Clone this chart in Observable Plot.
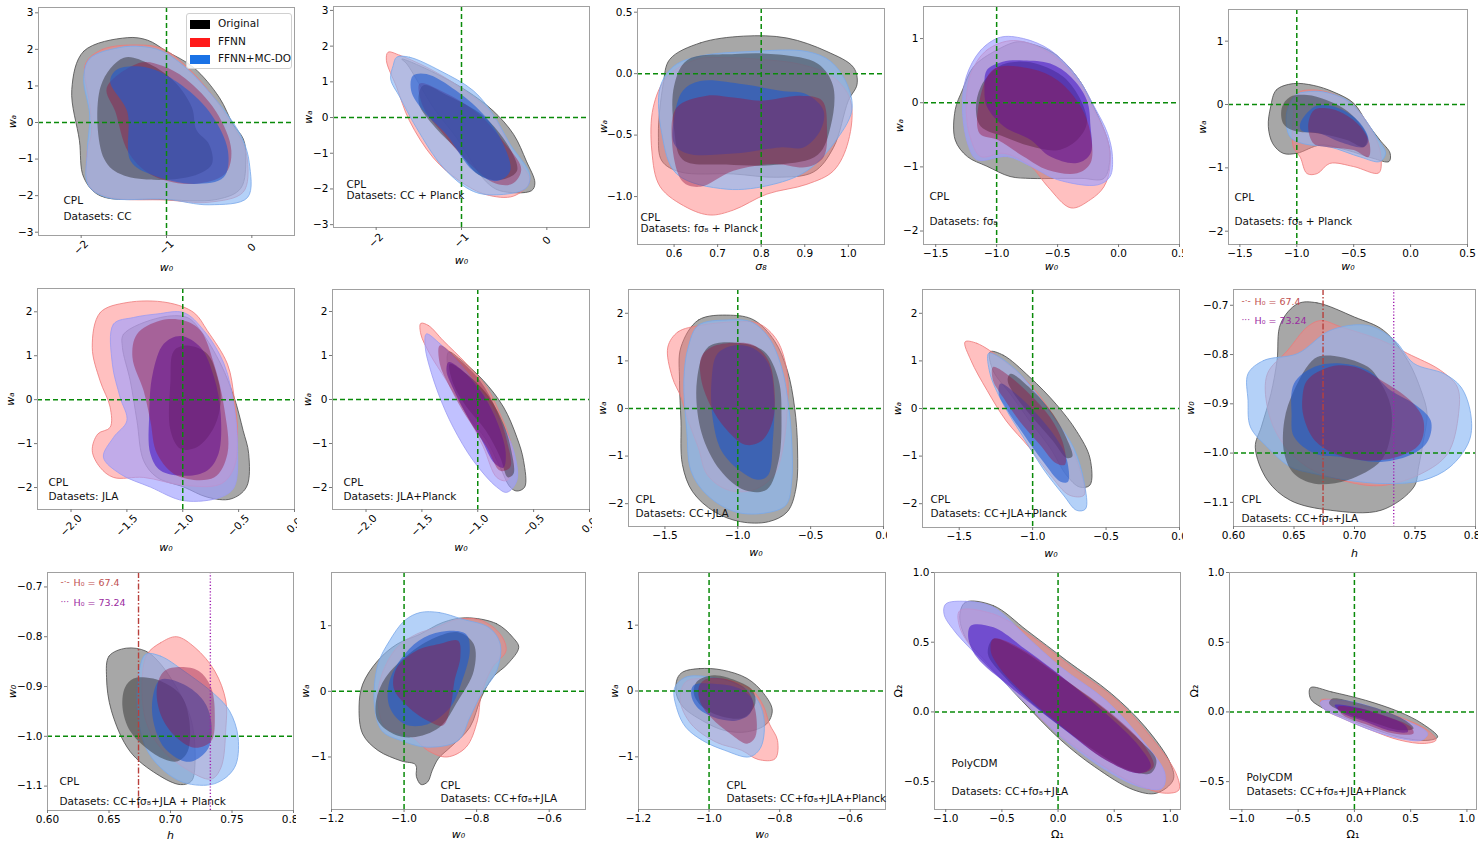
<!DOCTYPE html>
<html><head><meta charset="utf-8">
<script src="https://cdn.jsdelivr.net/npm/d3@7"></script>
<script src="https://cdn.jsdelivr.net/npm/@observablehq/plot@0.6"></script>
<style>
body{margin:0;background:#fff;}
#fig{position:relative;width:1479px;height:844px;overflow:hidden;font-family:"DejaVu Sans",sans-serif;background:#fff;}
.panel{position:absolute;}
.legend{position:absolute;border:1px solid #d0d0d0;border-radius:3px;background:rgba(255,255,255,0.85);font-size:10.5px;}
.legend .row{position:absolute;left:3px;height:10px;}
.legend .sw{position:absolute;left:0;top:0;width:20px;height:9px;}
.legend .lb{position:absolute;left:28px;top:-3px;white-space:nowrap;color:#111;}
</style></head><body><div id="fig"></div><script>
// ---------------- data ----------------
const legendLabels = ["Original", "FFNN", "FFNN+MC-DO"];
const legendColors = ["#000000", "#ff1a1a", "#1a72e6"];
const h0Values = [0.674, 0.7324];
const h0Labels = ["H₀ = 67.4", "H₀ = 73.24"];
const h0Symbols = ["-·-", "···"];

// Panel 1: CPL, CC
const p1_text = ["CPL", "Datasets: CC"];
const p1_orig95 = [[-1.46,2.32],[-1.97,1.95],[-2.11,0.9],[-2.02,-0.5],[-1.97,-1.5],[-1.78,-2.0],[-1.1,-2.1],[-0.4,-2.1],[-0.13,-1.8],[-0.07,-0.95],[-0.1,-0.45],[-0.22,-0.05],[-0.38,0.68],[-0.68,1.5],[-1.0,1.95],[-1.22,2.25]];
const p1_orig68 = [[-1.5,1.77],[-1.77,1.0],[-1.73,-1.0],[-1.5,-1.45],[-0.75,-1.5],[-0.47,-1.15],[-0.5,-0.6],[-0.65,-0.2],[-0.7,0.4],[-0.9,1.1],[-1.2,1.6]];
const p1_ffnn95 = [[-1.35,2.12],[-1.75,2.0],[-1.95,1.6],[-1.9,0.5],[-1.88,-0.3],[-1.93,-0.8],[-1.9,-1.75],[-1.65,-2.05],[-1.0,-2.12],[-0.5,-2.18],[-0.1,-1.9],[-0.05,-1.05],[-0.12,-0.5],[-0.25,0.0],[-0.45,0.7],[-0.75,1.5],[-1.05,2.02]];
const p1_ffnn68 = [[-1.3,1.64],[-1.7,0.95],[-1.6,0.3],[-1.45,-0.8],[-1.2,-1.4],[-0.75,-1.68],[-0.32,-1.42],[-0.24,-0.77],[-0.42,0.3],[-0.78,1.2],[-1.05,1.55]];
const p1_mcdo95 = [[-1.55,2.05],[-1.9,1.75],[-1.97,1.2],[-1.9,0.2],[-1.93,-0.8],[-1.92,-1.7],[-1.7,-2.05],[-1.0,-2.1],[-0.5,-2.25],[-0.05,-2.05],[-0.03,-1.1],[-0.1,-0.5],[-0.22,0.0],[-0.45,0.7],[-0.75,1.45],[-1.05,1.95],[-1.3,2.08]];
const p1_mcdo68 = [[-1.58,1.45],[-1.66,1.12],[-1.46,0.3],[-1.42,-1.05],[-1.18,-1.42],[-0.67,-1.68],[-0.33,-1.5],[-0.28,-0.77],[-0.5,0.3],[-0.87,1.1],[-1.22,1.5]];

// Panel 2: CPL, CC + Planck
const p2_text = ["CPL", "Datasets: CC + Planck"];
const p2_orig95 = [[-1.7,1.64],[-1.33,1.27],[-0.94,0.75],[-0.63,0.19],[-0.39,-0.47],[-0.24,-1.22],[-0.14,-1.83],[-0.18,-2.05],[-0.55,-2.05],[-0.71,-1.8],[-0.86,-1.31],[-1.06,-0.56],[-1.33,0.28],[-1.64,1.5]];
const p2_orig68 = [[-1.45,0.9],[-1.15,0.6],[-0.75,0.05],[-0.45,-0.8],[-0.35,-1.5],[-0.55,-1.75],[-0.8,-1.6],[-1.05,-0.9],[-1.3,-0.3],[-1.5,0.4]];
const p2_ffnn95 = [[-1.86,1.83],[-1.72,1.74],[-1.33,1.31],[-1.02,0.85],[-0.71,0.28],[-0.59,-0.09],[-0.39,-1.03],[-0.2,-1.78],[-0.39,-2.2],[-0.71,-2.16],[-1.02,-1.78],[-1.33,-1.13],[-1.61,-0.09],[-1.76,0.85],[-1.88,1.6]];
const p2_ffnn68 = [[-1.49,0.95],[-1.2,0.7],[-0.8,0.1],[-0.5,-0.7],[-0.3,-1.45],[-0.4,-1.85],[-0.6,-1.85],[-0.9,-1.3],[-1.2,-0.5],[-1.45,0.3]];
const p2_mcdo95 = [[-1.76,1.69],[-1.61,1.69],[-1.25,1.31],[-0.86,0.75],[-0.63,0.09],[-0.43,-0.75],[-0.2,-1.6],[-0.24,-1.97],[-0.55,-2.16],[-0.86,-2.07],[-1.21,-1.41],[-1.53,-0.28],[-1.72,0.56],[-1.83,1.08],[-1.8,1.46]];
const p2_mcdo68 = [[-1.57,1.17],[-1.41,1.22],[-1.06,0.75],[-0.71,0.0],[-0.51,-0.75],[-0.43,-1.5],[-0.59,-1.78],[-0.86,-1.5],[-1.18,-0.47],[-1.45,0.19],[-1.59,0.75]];

// Panel 3: CPL, fσ8 + Planck (σ8 - wa)
const p3_text = ["CPL", "Datasets: fσ₈ + Planck"];
const p3_orig95 = [[0.759,0.305],[0.66,0.25],[0.59,0.116],[0.575,-0.086],[0.564,-0.49],[0.572,-0.71],[0.614,-0.8],[0.736,-0.816],[0.836,-0.843],[0.92,-0.8],[0.966,-0.6],[1.0,-0.22],[1.02,-0.086],[1.012,0.05],[0.951,0.18],[0.859,0.29]];
const p3_orig68 = [[0.74,0.16],[0.63,0.11],[0.6,-0.1],[0.6,-0.45],[0.62,-0.7],[0.72,-0.74],[0.84,-0.74],[0.93,-0.66],[0.96,-0.42],[0.965,-0.1],[0.93,0.08],[0.84,0.155]];
const p3_ffnn95 = [[0.652,0.116],[0.583,-0.03],[0.552,-0.276],[0.549,-0.63],[0.568,-0.92],[0.63,-1.09],[0.683,-1.15],[0.736,-1.11],[0.813,-0.98],[0.905,-0.9],[0.966,-0.79],[1.0,-0.55],[1.005,-0.22],[0.966,-0.03],[0.89,0.076],[0.798,0.116],[0.721,0.13]];
const p3_ffnn68 = [[0.675,-0.18],[0.606,-0.276],[0.595,-0.546],[0.62,-0.88],[0.66,-0.92],[0.736,-0.79],[0.828,-0.735],[0.905,-0.76],[0.943,-0.68],[0.951,-0.44],[0.94,-0.22],[0.89,-0.18],[0.798,-0.22],[0.736,-0.195]];
const p3_mcdo95 = [[0.775,0.18],[0.66,0.143],[0.6,0.062],[0.568,-0.11],[0.572,-0.49],[0.606,-0.816],[0.721,-0.94],[0.828,-0.9],[0.905,-0.79],[0.966,-0.57],[1.008,-0.3],[0.997,-0.086],[0.959,0.1],[0.905,0.18]];
const p3_mcdo68 = [[0.66,-0.06],[0.62,-0.14],[0.6,-0.36],[0.6,-0.57],[0.63,-0.65],[0.736,-0.65],[0.844,-0.6],[0.897,-0.6],[0.936,-0.46],[0.943,-0.3],[0.905,-0.17],[0.844,-0.14],[0.759,-0.086]];

// Panel 4: CPL, fσ8
const p4_text = ["CPL", "Datasets: fσ₈"];
const p4_orig95 = [[-0.83,0.95],[-1.0,0.82],[-1.19,0.56],[-1.28,0.2],[-1.34,-0.11],[-1.34,-0.58],[-1.24,-0.84],[-1.08,-0.99],[-0.89,-1.15],[-0.72,-1.18],[-0.5,-1.18],[-0.3,-1.18],[-0.12,-1.18],[-0.07,-0.84],[-0.09,-0.58],[-0.23,0.04],[-0.34,0.4],[-0.53,0.77],[-0.72,0.92]];
const p4_orig68 = [[-0.99,0.56],[-1.13,0.25],[-1.17,-0.11],[-1.13,-0.37],[-0.94,-0.53],[-0.72,-0.68],[-0.5,-0.74],[-0.34,-0.58],[-0.26,-0.32],[-0.31,0.04],[-0.45,0.4],[-0.64,0.59],[-0.83,0.64]];
const p4_ffnn95 = [[-0.86,0.97],[-1.08,0.82],[-1.21,0.46],[-1.25,-0.11],[-1.21,-0.58],[-1.13,-0.84],[-0.94,-0.79],[-0.72,-0.99],[-0.58,-1.31],[-0.39,-1.64],[-0.23,-1.51],[-0.12,-1.31],[-0.07,-0.99],[-0.09,-0.58],[-0.23,-0.01],[-0.34,0.35],[-0.56,0.77]];
const p4_ffnn68 = [[-1.02,0.53],[-1.14,0.04],[-1.14,-0.48],[-0.99,-0.58],[-0.78,-0.84],[-0.58,-1.05],[-0.34,-1.1],[-0.23,-0.94],[-0.23,-0.48],[-0.31,-0.06],[-0.5,0.35],[-0.72,0.53]];
const p4_mcdo95 = [[-0.97,1.02],[-1.13,0.82],[-1.25,0.4],[-1.28,-0.11],[-1.23,-0.68],[-1.16,-0.89],[-0.91,-0.84],[-0.72,-0.99],[-0.5,-1.2],[-0.17,-1.28],[-0.07,-1.15],[-0.05,-0.84],[-0.09,-0.48],[-0.2,-0.06],[-0.34,0.4],[-0.56,0.82],[-0.78,1.0]];
const p4_mcdo68 = [[-1.08,0.51],[-0.95,0.64],[-0.78,0.66],[-0.56,0.61],[-0.39,0.4],[-0.26,0.04],[-0.23,-0.37],[-0.23,-0.79],[-0.34,-0.94],[-0.56,-0.84],[-0.72,-0.58],[-0.94,-0.37],[-1.08,-0.06],[-1.1,0.25]];

// Panel 5: CPL, fσ8 + Planck
const p5_text = ["CPL", "Datasets: fσ₈ + Planck"];
const p5_orig95 = [[-1.03,0.33],[-1.18,0.23],[-1.23,-0.04],[-1.25,-0.35],[-1.21,-0.62],[-1.12,-0.77],[-1.0,-0.77],[-0.79,-0.64],[-0.56,-0.72],[-0.33,-0.85],[-0.19,-0.9],[-0.18,-0.77],[-0.27,-0.56],[-0.38,-0.3],[-0.5,0.02],[-0.68,0.2],[-0.85,0.3]];
const p5_orig68 = [[-1.06,0.12],[-1.13,-0.04],[-1.12,-0.3],[-1.03,-0.41],[-0.79,-0.46],[-0.56,-0.56],[-0.41,-0.67],[-0.38,-0.51],[-0.53,-0.14],[-0.74,0.07],[-0.91,0.15]];
const p5_ffnn95 = [[-1.0,0.17],[-1.03,-0.19],[-1.03,-0.67],[-0.97,-0.83],[-0.91,-1.09],[-0.82,-1.09],[-0.71,-0.93],[-0.5,-0.98],[-0.28,-1.08],[-0.26,-0.83],[-0.3,-0.56],[-0.44,-0.14],[-0.62,0.12],[-0.85,0.23]];
const p5_ffnn68 = [[-0.85,-0.09],[-0.9,-0.35],[-0.85,-0.62],[-0.74,-0.67],[-0.5,-0.72],[-0.37,-0.83],[-0.36,-0.62],[-0.44,-0.35],[-0.59,-0.14],[-0.74,-0.06]];
const p5_mcdo95 = [[-1.01,0.15],[-1.09,-0.14],[-1.06,-0.51],[-0.94,-0.62],[-0.71,-0.67],[-0.44,-0.83],[-0.27,-0.9],[-0.22,-0.77],[-0.3,-0.51],[-0.44,-0.14],[-0.56,0.07],[-0.77,0.2],[-0.91,0.2]];
const p5_mcdo68 = [[-0.85,-0.04],[-0.97,-0.3],[-0.96,-0.41],[-0.79,-0.46],[-0.62,-0.59],[-0.41,-0.67],[-0.37,-0.56],[-0.44,-0.3],[-0.59,-0.09],[-0.74,-0.01]];

// Panel 6: CPL, JLA
const p6_text = ["CPL", "Datasets: JLA"];
const p6_orig95 = [[-1.2,1.87],[-1.53,1.49],[-1.54,1.19],[-1.47,0.43],[-1.41,-0.48],[-1.35,-1.39],[-1.23,-1.77],[-0.99,-1.99],[-0.78,-2.22],[-0.57,-2.26],[-0.43,-1.99],[-0.41,-1.23],[-0.46,-0.7],[-0.54,0.05],[-0.66,0.81],[-0.84,1.57],[-0.96,1.87]];
const p6_orig68 = [[-0.96,1.23],[-1.08,1.11],[-1.11,0.43],[-1.11,-0.7],[-1.02,-1.12],[-0.87,-1.08],[-0.72,-0.63],[-0.66,-0.02],[-0.69,0.51],[-0.78,1.04]];
const p6_ffnn95 = [[-1.5,2.21],[-1.74,1.98],[-1.81,1.19],[-1.74,0.43],[-1.65,-0.17],[-1.65,-0.63],[-1.76,-0.78],[-1.81,-1.16],[-1.74,-1.54],[-1.62,-1.77],[-1.35,-1.77],[-0.99,-1.95],[-0.66,-1.92],[-0.54,-1.54],[-0.51,-0.7],[-0.54,0.05],[-0.6,0.81],[-0.78,1.57],[-0.9,1.98],[-1.14,2.21]];
const p6_ffnn68 = [[-1.2,1.8],[-1.41,1.49],[-1.45,0.96],[-1.35,0.2],[-1.29,-0.48],[-1.23,-1.23],[-1.05,-1.73],[-0.72,-1.77],[-0.6,-1.23],[-0.63,-0.17],[-0.72,0.81],[-0.84,1.57],[-0.99,1.8]];
const p6_mcdo95 = [[-1.44,1.87],[-1.62,1.72],[-1.63,0.81],[-1.56,0.05],[-1.5,-0.48],[-1.62,-0.86],[-1.71,-1.31],[-1.56,-1.69],[-1.29,-1.99],[-0.99,-2.3],[-0.66,-2.22],[-0.54,-1.99],[-0.51,-1.08],[-0.54,-0.17],[-0.63,0.81],[-0.81,1.57],[-0.99,1.98],[-1.23,1.95]];
const p6_mcdo68 = [[-1.02,1.45],[-1.17,1.27],[-1.27,0.58],[-1.3,-0.33],[-1.29,-1.23],[-1.2,-1.61],[-0.96,-1.73],[-0.78,-1.61],[-0.68,-1.23],[-0.66,-0.33],[-0.72,0.51],[-0.84,1.19]];

// Panel 7: CPL, JLA+Planck
const p7_text = ["CPL", "Datasets: JLA+Planck"];
const p7_orig95 = [[-1.26,1.08],[-1.16,0.92],[-0.95,0.43],[-0.77,-0.17],[-0.65,-0.86],[-0.59,-1.39],[-0.58,-1.99],[-0.65,-2.08],[-0.71,-1.99],[-0.8,-1.54],[-0.92,-0.93],[-1.1,-0.33],[-1.22,0.28],[-1.27,0.73]];
const p7_orig68 = [[-1.25,0.81],[-1.1,0.58],[-0.92,0.13],[-0.77,-0.55],[-0.7,-1.16],[-0.68,-1.69],[-0.73,-1.77],[-0.8,-1.31],[-0.93,-0.7],[-1.1,-0.17],[-1.22,0.36]];
const p7_ffnn95 = [[-1.51,1.73],[-1.44,1.68],[-1.31,1.34],[-1.1,0.81],[-0.92,0.28],[-0.8,-0.33],[-0.71,-0.93],[-0.68,-1.54],[-0.74,-1.84],[-0.83,-1.77],[-0.95,-1.08],[-1.1,-0.33],[-1.28,0.43],[-1.43,1.04],[-1.51,1.49]];
const p7_ffnn68 = [[-1.34,1.23],[-1.19,0.96],[-0.98,0.43],[-0.83,-0.25],[-0.74,-0.93],[-0.71,-1.54],[-0.8,-1.62],[-0.92,-1.08],[-1.1,-0.4],[-1.25,0.28],[-1.34,0.81]];
const p7_mcdo95 = [[-1.46,1.49],[-1.34,1.27],[-1.16,0.81],[-0.95,0.13],[-0.8,-0.48],[-0.68,-1.16],[-0.65,-1.84],[-0.74,-2.11],[-0.83,-1.99],[-1.04,-1.39],[-1.22,-0.63],[-1.34,0.05],[-1.43,0.73],[-1.47,1.19]];
const p7_mcdo68 = [[-1.26,0.85],[-1.12,0.62],[-0.95,0.1],[-0.82,-0.55],[-0.75,-1.2],[-0.77,-1.55],[-0.85,-1.45],[-0.97,-0.9],[-1.1,-0.35],[-1.22,0.25],[-1.28,0.65]];

// Panel 8: CPL, CC+JLA
const p8_text = ["CPL", "Datasets: CC+JLA"];
const p8_orig95 = [[-1.05,1.96],[-1.27,1.86],[-1.39,1.29],[-1.4,0.59],[-1.39,-0.26],[-1.38,-1.18],[-1.31,-1.75],[-1.16,-2.17],[-0.98,-2.38],[-0.79,-2.38],[-0.66,-2.17],[-0.6,-1.67],[-0.59,-0.83],[-0.61,0.02],[-0.66,0.8],[-0.75,1.43],[-0.89,1.86]];
const p8_orig68 = [[-1.2,1.3],[-1.28,0.6],[-1.25,-0.5],[-1.12,-1.3],[-0.95,-1.72],[-0.8,-1.7],[-0.72,-1.1],[-0.7,-0.2],[-0.72,0.6],[-0.82,1.2],[-1.0,1.38]];
const p8_ffnn95 = [[-1.48,1.29],[-1.41,1.61],[-1.25,1.75],[-1.02,1.82],[-0.86,1.79],[-0.73,1.43],[-0.66,0.73],[-0.66,0.02],[-0.69,-0.83],[-0.75,-1.39],[-0.89,-1.71],[-1.07,-1.71],[-1.21,-1.39],[-1.27,-0.83],[-1.34,-0.26],[-1.39,0.24],[-1.45,0.66]];
const p8_ffnn68 = [[-1.18,1.29],[-1.25,1.08],[-1.25,0.59],[-1.18,0.02],[-1.09,-0.4],[-0.95,-0.76],[-0.84,-0.69],[-0.76,-0.26],[-0.75,0.45],[-0.79,1.01],[-0.89,1.33],[-1.02,1.38]];
const p8_mcdo95 = [[-1.07,1.86],[-1.27,1.75],[-1.34,1.29],[-1.37,0.59],[-1.35,-0.47],[-1.32,-1.32],[-1.21,-1.82],[-1.02,-2.17],[-0.82,-2.2],[-0.67,-2.03],[-0.63,-1.53],[-0.63,-0.69],[-0.65,0.02],[-0.7,0.87],[-0.79,1.5],[-0.91,1.82]];
const p8_mcdo68 = [[-1.02,1.33],[-1.14,1.15],[-1.18,0.59],[-1.17,-0.26],[-1.11,-0.9],[-0.98,-1.32],[-0.86,-1.5],[-0.79,-1.39],[-0.76,-0.69],[-0.75,0.23],[-0.79,0.94],[-0.89,1.26]];

// Panel 9: CPL, CC+JLA+Planck
const p9_text = ["CPL", "Datasets: CC+JLA+Planck"];
const p9_orig95 = [[-1.29,1.19],[-1.2,1.12],[-1.02,0.66],[-0.84,0.09],[-0.7,-0.48],[-0.61,-1.04],[-0.61,-1.61],[-0.68,-1.65],[-0.77,-1.4],[-0.88,-0.83],[-1.02,-0.26],[-1.15,0.3],[-1.27,0.8]];
const p9_orig68 = [[-1.15,0.73],[-1.0,0.38],[-0.86,-0.12],[-0.77,-0.62],[-0.73,-1.01],[-0.77,-1.04],[-0.86,-0.69],[-1.0,-0.19],[-1.11,0.23],[-1.17,0.59]];
const p9_ffnn95 = [[-1.46,1.4],[-1.38,1.37],[-1.2,1.01],[-1.02,0.52],[-0.88,-0.05],[-0.77,-0.62],[-0.68,-1.26],[-0.65,-1.82],[-0.75,-1.82],[-0.88,-1.4],[-1.02,-0.83],[-1.18,-0.26],[-1.31,0.38],[-1.42,1.01]];
const p9_ffnn68 = [[-1.27,0.87],[-1.18,0.73],[-1.02,0.3],[-0.88,-0.19],[-0.79,-0.76],[-0.78,-1.18],[-0.84,-1.15],[-0.95,-0.76],[-1.09,-0.26],[-1.2,0.23],[-1.27,0.59]];
const p9_mcdo95 = [[-1.3,1.16],[-1.25,1.12],[-1.11,0.8],[-0.97,0.3],[-0.84,-0.26],[-0.72,-0.83],[-0.65,-1.54],[-0.64,-2.11],[-0.7,-2.14],[-0.79,-1.82],[-0.93,-1.26],[-1.06,-0.62],[-1.2,0.09],[-1.29,0.73]];
const p9_mcdo68 = [[-1.22,0.52],[-1.11,0.3],[-0.97,-0.12],[-0.84,-0.62],[-0.77,-1.04],[-0.76,-1.54],[-0.81,-1.54],[-0.93,-1.11],[-1.06,-0.55],[-1.17,-0.05],[-1.23,0.3]];

// Panel 10: CPL, CC+fσ8+JLA (h - w0)
const p10_text = ["CPL", "Datasets: CC+fσ₈+JLA"];
const p10_orig95 = [[0.653,-0.697],[0.669,-0.695],[0.7,-0.724],[0.724,-0.751],[0.744,-0.812],[0.755,-0.873],[0.76,-0.92],[0.757,-0.974],[0.753,-1.028],[0.749,-1.069],[0.722,-1.116],[0.68,-1.116],[0.647,-1.096],[0.628,-1.055],[0.618,-0.988],[0.623,-0.947],[0.631,-0.879],[0.636,-0.812],[0.639,-0.737]];
const p10_orig68 = [[0.667,-0.808],[0.68,-0.802],[0.711,-0.825],[0.722,-0.859],[0.73,-0.906],[0.73,-0.961],[0.722,-1.015],[0.694,-1.055],[0.667,-1.062],[0.65,-1.042],[0.642,-1.001],[0.642,-0.934],[0.65,-0.873]];
const p10_ffnn95 = [[0.628,-0.839],[0.645,-0.791],[0.661,-0.744],[0.672,-0.731],[0.689,-0.744],[0.722,-0.771],[0.744,-0.798],[0.771,-0.832],[0.785,-0.866],[0.786,-0.92],[0.777,-1.001],[0.755,-1.042],[0.722,-1.066],[0.689,-1.055],[0.661,-1.028],[0.639,-0.974],[0.628,-0.907]];
const p10_ffnn68 = [[0.661,-0.852],[0.68,-0.825],[0.7,-0.825],[0.722,-0.852],[0.746,-0.893],[0.757,-0.934],[0.754,-0.981],[0.735,-1.008],[0.708,-1.015],[0.683,-1.001],[0.667,-0.974],[0.658,-0.927],[0.657,-0.886]];
const p10_mcdo95 = [[0.612,-0.839],[0.625,-0.812],[0.653,-0.798],[0.68,-0.751],[0.711,-0.741],[0.733,-0.771],[0.749,-0.818],[0.774,-0.839],[0.788,-0.866],[0.796,-0.92],[0.795,-0.974],[0.779,-1.028],[0.757,-1.055],[0.727,-1.062],[0.694,-1.055],[0.667,-1.042],[0.647,-1.028],[0.628,-0.988],[0.614,-0.947],[0.612,-0.893]];
const p10_mcdo68 = [[0.65,-0.859],[0.667,-0.825],[0.689,-0.818],[0.711,-0.832],[0.73,-0.873],[0.749,-0.9],[0.763,-0.934],[0.761,-0.974],[0.749,-1.001],[0.722,-1.018],[0.689,-1.008],[0.667,-1.001],[0.65,-0.967],[0.648,-0.92]];

// Panel 11: CPL, CC+fσ8+JLA + Planck (h - w0)
const p11_text = ["CPL", "Datasets: CC+fσ₈+JLA + Planck"];
const p11_orig95 = [[0.664,-0.823],[0.65,-0.839],[0.648,-0.882],[0.652,-0.949],[0.667,-1.03],[0.689,-1.076],[0.708,-1.097],[0.717,-1.09],[0.72,-1.05],[0.717,-0.969],[0.708,-0.916],[0.692,-0.855],[0.68,-0.829]];
const p11_orig68 = [[0.67,-0.884],[0.663,-0.902],[0.661,-0.942],[0.667,-0.989],[0.68,-1.023],[0.695,-1.046],[0.706,-1.05],[0.714,-1.03],[0.715,-0.963],[0.708,-0.916],[0.692,-0.889],[0.68,-0.882]];
const p11_ffnn95 = [[0.705,-0.8],[0.692,-0.812],[0.681,-0.835],[0.677,-0.882],[0.68,-0.969],[0.692,-1.023],[0.711,-1.063],[0.733,-1.086],[0.741,-1.063],[0.745,-0.983],[0.745,-0.929],[0.736,-0.869],[0.72,-0.822]];
const p11_ffnn68 = [[0.708,-0.861],[0.695,-0.869],[0.689,-0.902],[0.692,-0.956],[0.705,-1.003],[0.72,-1.023],[0.733,-1.01],[0.736,-0.956],[0.733,-0.902],[0.723,-0.869]];
const p11_mcdo95 = [[0.68,-0.835],[0.692,-0.839],[0.711,-0.869],[0.736,-0.916],[0.748,-0.949],[0.755,-1.003],[0.752,-1.063],[0.736,-1.095],[0.711,-1.093],[0.692,-1.063],[0.68,-1.023],[0.673,-0.949],[0.675,-0.862]];
const p11_mcdo68 = [[0.692,-0.886],[0.686,-0.916],[0.686,-0.969],[0.695,-1.023],[0.711,-1.05],[0.72,-1.048],[0.731,-1.023],[0.733,-0.969],[0.727,-0.929],[0.711,-0.896]];

// Panel 12: CPL, CC+fσ8+JLA (w0 - wa)
const p12_text = ["CPL", "Datasets: CC+fσ₈+JLA"];
const p12_orig95 = [[-0.83,1.12],[-0.745,1.03],[-0.7,0.82],[-0.684,0.67],[-0.714,0.42],[-0.756,0.21],[-0.787,-0.09],[-0.819,-0.55],[-0.872,-0.85],[-0.905,-1.02],[-0.922,-1.2],[-0.935,-1.38],[-0.953,-1.42],[-0.966,-1.3],[-0.968,-1.12],[-1.008,-1.06],[-1.072,-0.9],[-1.114,-0.65],[-1.124,-0.24],[-1.114,0.11],[-1.072,0.47],[-1.019,0.72],[-0.956,0.87],[-0.893,1.05]];
const p12_orig68 = [[-0.851,0.9],[-0.808,0.72],[-0.808,0.31],[-0.851,-0.14],[-0.903,-0.55],[-0.977,-0.7],[-1.029,-0.65],[-1.072,-0.45],[-1.077,-0.14],[-1.051,0.21],[-0.987,0.57],[-0.914,0.82]];
const p12_ffnn95 = [[-0.914,0.97],[-0.851,1.1],[-0.787,1.08],[-0.735,0.87],[-0.719,0.62],[-0.756,0.37],[-0.787,-0.04],[-0.798,-0.45],[-0.829,-0.85],[-0.882,-1.0],[-0.935,-0.9],[-0.977,-0.7],[-1.051,-0.55],[-1.072,-0.14],[-1.061,0.26],[-1.019,0.67],[-0.966,0.87]];
const p12_ffnn68 = [[-0.903,0.72],[-0.851,0.77],[-0.845,0.52],[-0.861,0.16],[-0.872,-0.24],[-0.893,-0.52],[-0.935,-0.45],[-0.998,-0.19],[-1.029,0.06],[-1.019,0.37],[-0.966,0.62]];
const p12_mcdo95 = [[-0.956,1.2],[-0.903,1.2],[-0.84,1.1],[-0.766,0.97],[-0.735,0.72],[-0.745,0.31],[-0.787,-0.04],[-0.819,-0.4],[-0.851,-0.75],[-0.935,-0.85],[-1.008,-0.75],[-1.061,-0.6],[-1.082,-0.19],[-1.072,0.41],[-1.04,0.77],[-0.998,1.08]];
const p12_mcdo68 = [[-0.882,0.92],[-0.829,0.87],[-0.819,0.62],[-0.84,0.16],[-0.872,-0.24],[-0.935,-0.5],[-0.998,-0.5],[-1.04,-0.24],[-1.04,0.16],[-0.998,0.57],[-0.945,0.82]];

// Panel 13: CPL, CC+fσ8+JLA+Planck (w0 - wa)
const p13_text = ["CPL", "Datasets: CC+fσ₈+JLA+Planck"];
const p13_orig95 = [[-1.074,0.29],[-1.027,0.34],[-0.964,0.32],[-0.892,0.19],[-0.845,-0.04],[-0.821,-0.29],[-0.837,-0.5],[-0.892,-0.62],[-0.956,-0.6],[-1.019,-0.45],[-1.074,-0.24],[-1.093,-0.04],[-1.09,0.19]];
const p13_orig68 = [[-0.987,0.24],[-0.924,0.16],[-0.877,0.01],[-0.869,-0.19],[-0.9,-0.4],[-0.956,-0.4],[-1.019,-0.24],[-1.043,-0.04],[-1.035,0.14]];
const p13_ffnn95 = [[-1.066,0.14],[-1.019,0.19],[-0.94,0.16],[-0.877,0.01],[-0.845,-0.24],[-0.829,-0.5],[-0.806,-0.75],[-0.813,-1.03],[-0.861,-1.04],[-0.908,-0.9],[-0.979,-0.78],[-1.051,-0.5],[-1.082,-0.14]];
const p13_ffnn68 = [[-1.003,0.19],[-0.94,0.16],[-0.892,0.01],[-0.869,-0.29],[-0.869,-0.7],[-0.892,-0.8],[-0.94,-0.65],[-0.995,-0.4],[-1.027,-0.14],[-1.027,0.09]];
const p13_mcdo95 = [[-1.098,0.04],[-1.066,0.21],[-0.995,0.21],[-0.924,0.11],[-0.869,-0.09],[-0.845,-0.4],[-0.853,-0.85],[-0.885,-1.0],[-0.956,-0.9],[-1.019,-0.75],[-1.066,-0.55],[-1.09,-0.29]];
const p13_mcdo68 = [[-1.043,0.09],[-0.987,0.11],[-0.916,0.04],[-0.877,-0.14],[-0.885,-0.35],[-0.924,-0.45],[-0.987,-0.4],[-1.035,-0.24],[-1.051,-0.04]];

// Panel 14: PolyCDM, CC+fσ8+JLA (Ω1 - Ω2)
const p14_text = ["PolyCDM", "Datasets: CC+fσ₈+JLA"];
const p14_orig95 = [[-0.825,0.786],[-0.575,0.762],[-0.275,0.583],[0.075,0.369],[0.475,0.131],[0.775,-0.107],[1.0,-0.369],[1.025,-0.488],[0.875,-0.583],[0.675,-0.56],[0.325,-0.393],[0.025,-0.202],[-0.325,0.083],[-0.625,0.345],[-0.825,0.536],[-0.875,0.69]];
const p14_orig68 = [[-0.575,0.524],[-0.375,0.464],[0.025,0.25],[0.425,0.012],[0.725,-0.202],[0.875,-0.345],[0.825,-0.44],[0.625,-0.417],[0.275,-0.25],[-0.125,-0.012],[-0.475,0.25],[-0.625,0.417]];
const p14_ffnn95 = [[-0.875,0.726],[-0.575,0.702],[-0.225,0.536],[0.125,0.321],[0.525,0.083],[0.825,-0.179],[1.05,-0.44],[1.075,-0.56],[0.95,-0.583],[0.675,-0.512],[0.325,-0.345],[-0.075,-0.107],[-0.425,0.179],[-0.725,0.417],[-0.875,0.607]];
const p14_ffnn68 = [[-0.575,0.524],[-0.325,0.452],[0.075,0.226],[0.475,-0.012],[0.775,-0.25],[0.85,-0.393],[0.725,-0.44],[0.425,-0.345],[0.075,-0.131],[-0.275,0.107],[-0.525,0.321],[-0.6,0.44]];
const p14_mcdo95 = [[-1.0,0.774],[-0.825,0.793],[-0.575,0.75],[-0.275,0.536],[0.025,0.321],[0.425,0.083],[0.725,-0.179],[0.95,-0.44],[0.925,-0.548],[0.725,-0.536],[0.425,-0.417],[0.025,-0.179],[-0.375,0.131],[-0.675,0.369],[-0.925,0.583],[-1.015,0.702]];
const p14_mcdo68 = [[-0.775,0.619],[-0.575,0.607],[-0.275,0.44],[0.075,0.226],[0.425,-0.012],[0.725,-0.25],[0.825,-0.393],[0.725,-0.44],[0.425,-0.345],[0.025,-0.107],[-0.425,0.179],[-0.725,0.393],[-0.8,0.536]];

// Panel 15: PolyCDM, CC+fσ8+JLA+Planck (Ω1 - Ω2)
const p15_text = ["PolyCDM", "Datasets: CC+fσ₈+JLA+Planck"];
const p15_orig95 = [[-0.39,0.174],[-0.2,0.143],[0.1,0.083],[0.4,0.0],[0.6,-0.083],[0.74,-0.179],[0.675,-0.202],[0.45,-0.19],[0.2,-0.131],[-0.1,-0.036],[-0.3,0.036],[-0.39,0.095]];
const p15_orig68 = [[-0.2,0.095],[0.0,0.071],[0.25,0.012],[0.45,-0.06],[0.525,-0.119],[0.4,-0.131],[0.15,-0.071],[-0.1,0.0],[-0.225,0.06]];
const p15_ffnn95 = [[-0.3,0.083],[-0.15,0.083],[0.1,0.036],[0.4,-0.036],[0.65,-0.131],[0.725,-0.202],[0.625,-0.226],[0.4,-0.202],[0.15,-0.131],[-0.1,-0.048],[-0.275,0.024]];
const p15_ffnn68 = [[-0.15,0.036],[0.05,0.024],[0.3,-0.036],[0.5,-0.107],[0.525,-0.155],[0.35,-0.155],[0.125,-0.095],[-0.1,-0.024]];
const p15_mcdo95 = [[-0.3,0.071],[-0.1,0.083],[0.15,0.036],[0.45,-0.06],[0.65,-0.155],[0.6,-0.202],[0.4,-0.19],[0.15,-0.131],[-0.1,-0.048],[-0.275,0.024]];
const p15_mcdo68 = [[-0.175,0.048],[0.0,0.036],[0.25,-0.024],[0.45,-0.095],[0.475,-0.143],[0.3,-0.131],[0.1,-0.071],[-0.1,-0.012]];

// ---------------- styles ----------------
const STY = {
  orig:   {f95:"#8a8a8a", a95:0.75, f68:"#282828", a68:0.45, line:"#4a4a4a"},
  ffnn:   {f95:"#ff8282", a95:0.50, f68:"#961440", a68:0.42, line:"#ee7a7a"},
  azure:  {f95:"#8cb9f5", a95:0.65, f68:"#1e5ad2", a68:0.60, line:"#7aa8ea"},
  violet: {f95:"#a0a0ff", a95:0.65, f68:"#4619c8", a68:0.60, line:"#9a9af2"}
};
const GREEN = "#0a8a0a";
const FONT = "DejaVu Sans";

// ---------------- layout ----------------
const panels = [
 {frame:[38,7,294,235], x:[-2.5,0.5], y:[-3.09,3.145], xt:[-2,-1,0], yt:[3,2,1,0,-1,-2,-3], xf:"d", yf:"d", rot:12, xl:"w₀", yl:"wₐ", xlo:32, ylo:26, rx:-1, ry:0, text:p1_text, tp:[[25,193],[25,209]], mr:6, blue:"azure", blueTop:true, c:[p1_orig95,p1_orig68,p1_ffnn95,p1_ffnn68,p1_mcdo95,p1_mcdo68]},
 {frame:[333,6,589,227], x:[-2.5,0.5], y:[-3.08,3.11], xt:[-2,-1,0], yt:[3,2,1,0,-1,-2,-3], xf:"d", yf:"d", rot:13, xl:"w₀", yl:"wₐ", xlo:33, ylo:25, rx:-1, ry:0, text:p2_text, tp:[[13,178],[13,189]], mr:6, blue:"azure", blueTop:true, c:[p2_orig95,p2_orig68,p2_ffnn95,p2_ffnn68,p2_mcdo95,p2_mcdo68]},
 {frame:[637,8,884,244], x:[0.516,1.083], y:[-1.39,0.53], xt:[0.6,0.7,0.8,0.9,1.0], yt:[0.5,0,-0.5,-1], xf:".1f", yf:".1f", rot:0, xl:"σ₈", yl:"wₐ", xlo:22, ylo:34, rx:0.8, ry:0, text:p3_text, tp:[[3,209],[3,220]], mr:6, blue:"azure", c:[p3_orig95,p3_orig68,p3_ffnn95,p3_ffnn68,p3_mcdo95,p3_mcdo68]},
 {frame:[923,6,1179,244], x:[-1.6,0.5], y:[-2.21,1.5], xt:[-1.5,-1,-0.5,0,0.5], yt:[1,0,-1,-2], xf:".1f", yf:"d", rot:0, xl:"w₀", yl:"wₐ", xlo:22, ylo:24, rx:-1, ry:0, text:p4_text, tp:[[6,190],[6,215]], mr:4, blue:"violet", c:[p4_orig95,p4_orig68,p4_ffnn95,p4_ffnn68,p4_mcdo95,p4_mcdo68]},
 {frame:[1228,9,1467,244], x:[-1.6,0.5], y:[-2.21,1.5], xt:[-1.5,-1,-0.5,0,0.5], yt:[1,0,-1,-2], xf:".1f", yf:"d", rot:0, xl:"w₀", yl:"wₐ", xlo:22, ylo:26, rx:-1, ry:0, text:p5_text, tp:[[6,188],[6,212]], mr:11, blue:"azure", c:[p5_orig95,p5_orig68,p5_ffnn95,p5_ffnn68,p5_mcdo95,p5_mcdo68]},
 {frame:[37,288,294,509], x:[-2.3,0], y:[-2.5,2.53], xt:[-2,-1.5,-1,-0.5,0], yt:[2,1,0,-1,-2], xf:".1f", yf:"d", rot:16, xl:"w₀", yl:"wₐ", xlo:38, ylo:27, rx:-1, ry:0, text:p6_text, tp:[[11,194],[11,208]], mr:3, blue:"violet", c:[p6_orig95,p6_orig68,p6_ffnn95,p6_ffnn68,p6_mcdo95,p6_mcdo68]},
 {frame:[332,289,589,509], x:[-2.3,0], y:[-2.5,2.5], xt:[-2,-1.5,-1,-0.5,0], yt:[2,1,0,-1,-2], xf:".1f", yf:"d", rot:16, xl:"w₀", yl:"wₐ", xlo:38, ylo:25, rx:-1, ry:0, text:p7_text, tp:[[11,193],[11,207]], mr:3, blue:"violet", c:[p7_orig95,p7_orig68,p7_ffnn95,p7_ffnn68,p7_mcdo95,p7_mcdo68]},
 {frame:[628,289,883,526], x:[-1.75,0], y:[-2.48,2.5], xt:[-1.5,-1,-0.5,0], yt:[2,1,0,-1,-2], xf:".1f", yf:"d", rot:0, xl:"w₀", yl:"wₐ", xlo:26, ylo:26, rx:-1, ry:0, text:p8_text, tp:[[7,210],[7,224]], mr:4, blue:"azure", c:[p8_orig95,p8_orig68,p8_ffnn95,p8_ffnn68,p8_mcdo95,p8_mcdo68]},
 {frame:[922,289,1179,527], x:[-1.75,0], y:[-2.5,2.5], xt:[-1.5,-1,-0.5,0], yt:[2,1,0,-1,-2], xf:".1f", yf:"d", rot:0, xl:"w₀", yl:"wₐ", xlo:26, ylo:25, rx:-1, ry:0, text:p9_text, tp:[[8,210],[8,224]], mr:4, blue:"azure", c:[p9_orig95,p9_orig68,p9_ffnn95,p9_ffnn68,p9_mcdo95,p9_mcdo68]},
 {frame:[1233,289,1475,526], x:[0.6,0.8], y:[-1.149,-0.668], xt:[0.6,0.65,0.7,0.75,0.8], yt:[-0.7,-0.8,-0.9,-1.0,-1.1], xf:".2f", yf:".1f", rot:0, xl:"h", yl:"w₀", xlo:27, ylo:43, rx:null, ry:-1, h0:[[8,12],[21,12],[8,31],[21,31]], text:p10_text, tp:[[8,210],[8,229]], mr:3, blue:"azure", c:[p10_orig95,p10_orig68,p10_ffnn95,p10_ffnn68,p10_mcdo95,p10_mcdo68]},
 {frame:[47,572,293,810], x:[0.6,0.8], y:[-1.149,-0.671], xt:[0.6,0.65,0.7,0.75,0.8], yt:[-0.7,-0.8,-0.9,-1.0,-1.1], xf:".2f", yf:".1f", rot:0, xl:"h", yl:"w₀", xlo:25, ylo:35, rx:null, ry:-1, h0:[[13,10],[26,10],[13,30],[26,30]], text:p11_text, tp:[[12,209],[12,229]], mr:3, blue:"azure", c:[p11_orig95,p11_orig68,p11_ffnn95,p11_ffnn68,p11_mcdo95,p11_mcdo68]},
 {frame:[331,572,585,809], x:[-1.2,-0.5], y:[-1.8,1.81], xt:[-1.2,-1,-0.8,-0.6], yt:[1,0,-1], xf:".1f", yf:"d", rot:0, xl:"w₀", yl:"wₐ", xlo:25, ylo:26, rx:-1, ry:0, text:p12_text, tp:[[109,213],[109,226]], mr:6, blue:"azure", c:[p12_orig95,p12_orig68,p12_ffnn95,p12_ffnn68,p12_mcdo95,p12_mcdo68]},
 {frame:[638,572,885,809], x:[-1.2,-0.5], y:[-1.8,1.8], xt:[-1.2,-1,-0.8,-0.6], yt:[1,0,-1], xf:".1f", yf:"d", rot:0, xl:"w₀", yl:"wₐ", xlo:25, ylo:24, rx:-1, ry:0, text:p13_text, tp:[[88,213],[88,226]], mr:6, blue:"azure", c:[p13_orig95,p13_orig68,p13_ffnn95,p13_ffnn68,p13_mcdo95,p13_mcdo68]},
 {frame:[934,572,1180,809], x:[-1.1,1.09], y:[-0.7,1.0], xt:[-1,-0.5,0,0.5,1], yt:[1,0.5,0,-0.5], xf:".1f", yf:".1f", rot:0, xl:"Ω₁", yl:"Ω₂", xlo:25, ylo:36, rx:0, ry:0, text:p14_text, tp:[[17,191],[17,219]], mr:6, blue:"violet", upright:true, c:[p14_orig95,p14_orig68,p14_ffnn95,p14_ffnn68,p14_mcdo95,p14_mcdo68]},
 {frame:[1229,572,1476,809], x:[-1.11,1.085], y:[-0.7,1.0], xt:[-1,-0.5,0,0.5,1], yt:[1,0.5,0,-0.5], xf:".1f", yf:".1f", rot:0, xl:"Ω₁", yl:"Ω₂", xlo:25, ylo:35, rx:0, ry:0, text:p15_text, tp:[[17,205],[17,219]], mr:3, blue:"violet", upright:true, c:[p15_orig95,p15_orig68,p15_ffnn95,p15_ffnn68,p15_mcdo95,p15_mcdo68]}
];

const fig = document.getElementById("fig");

function poly(data, fill, op, stroke) {
  return Plot.line(data, {x: p => p[0], y: p => p[1], curve: "catmull-rom-closed",
    fill, fillOpacity: op, stroke: stroke || "none", strokeWidth: 0.8, clip: true});
}

for (const p of panels) {
  const [l, t, r, b] = p.frame;
  const ml = p.ylo + 10, mr = p.mr, mt = (t < 20 ? t : 10), mb = p.xlo + 10;
  const W = ml + (r - l) + mr, H = mt + (b - t) + mb;
  const fx = d3.format(p.xf), fy = d3.format(p.yf);
  const B = STY[p.blue], O = STY.orig, F = STY.ffnn;
  const [o95, o68, f95, f68, m95, m68] = p.c;
  // all 95% regions first (Original, FFNN, MC-DO), then all 68% regions
  const outer = [poly(o95, O.f95, O.a95, O.line), poly(f95, F.f95, F.a95, F.line), poly(m95, B.f95, B.a95, B.line)];
  const inner = p.blueTop
    ? [poly(o68, O.f68, O.a68), poly(f68, F.f68, F.a68), poly(m68, B.f68, B.a68)]
    : [poly(o68, O.f68, O.a68), poly(m68, B.f68, B.a68), poly(f68, F.f68, F.a68)];
  const marks = [...outer, ...inner];
  if (p.rx !== null) marks.push(Plot.ruleX([p.rx], {stroke: GREEN, strokeWidth: 1.5, strokeDasharray: "5,3"}));
  if (p.ry !== null) marks.push(Plot.ruleY([p.ry], {stroke: GREEN, strokeWidth: 1.5, strokeDasharray: "5,3"}));
  if (p.h0) {
    marks.push(Plot.ruleX([h0Values[0]], {stroke: "#b8403c", strokeWidth: 1.4, strokeDasharray: "6,2,1.5,2"}));
    marks.push(Plot.ruleX([h0Values[1]], {stroke: "#a020b0", strokeWidth: 1.4, strokeDasharray: "1.2,2"}));
    const cols = ["#c05050", "#9a2aa0"];
    for (let i = 0; i < 2; i++) {
      marks.push(Plot.text([h0Symbols[i]], {text: d => d, frameAnchor: "top-left", dx: p.h0[2*i][0], dy: p.h0[2*i][1], textAnchor: "start", lineAnchor: "middle", fill: cols[i], fontSize: 9}));
      marks.push(Plot.text([h0Labels[i]], {text: d => d, frameAnchor: "top-left", dx: p.h0[2*i+1][0], dy: p.h0[2*i+1][1], textAnchor: "start", lineAnchor: "middle", fill: cols[i], fontSize: 9.5}));
    }
  }
  marks.push(Plot.frame({stroke: "#a0a0a0"}));
  marks.push(Plot.axisY({ticks: p.yt, tickFormat: fy, tickSize: 3, tickPadding: 2, label: null, stroke: "#777", fontSize: 10.5}));
  if (p.rot) {
    marks.push(Plot.axisX({ticks: p.xt, tickFormat: () => "", tickSize: 3, label: null, stroke: "#777"}));
    marks.push(Plot.text(p.xt, {x: d => d, text: d => fx(d), frameAnchor: "bottom", dy: p.rot, rotate: -45, textAnchor: "middle", lineAnchor: "middle", fontSize: 10.5}));
  } else {
    marks.push(Plot.axisX({ticks: p.xt, tickFormat: fx, tickSize: 3, tickPadding: 2, label: null, stroke: "#777", fontSize: 10.5}));
  }
  marks.push(Plot.text([p.xl], {text: d => d, frameAnchor: "bottom", dy: p.xlo, textAnchor: "middle", lineAnchor: "middle", fontSize: 11, fontStyle: p.upright ? "normal" : "italic"}));
  marks.push(Plot.text([p.yl], {text: d => d, frameAnchor: "left", dx: -p.ylo, rotate: -90, textAnchor: "middle", lineAnchor: "middle", fontSize: 11, fontStyle: p.upright ? "normal" : "italic"}));
  p.text.forEach((s, i) => {
    marks.push(Plot.text([s], {text: d => d, frameAnchor: "top-left", dx: p.tp[i][0], dy: p.tp[i][1], textAnchor: "start", lineAnchor: "middle", fontSize: 10.5, fill: "#111"}));
  });
  const svg = Plot.plot({
    width: W, height: H, marginLeft: ml, marginRight: mr, marginTop: mt, marginBottom: mb,
    x: {domain: p.x}, y: {domain: p.y},
    style: {background: "transparent", fontFamily: FONT, fontSize: "10.5px", color: "#000", overflow: "hidden"},
    marks
  });
  const div = document.createElement("div");
  div.className = "panel";
  div.style.left = (l - ml) + "px";
  div.style.top = (t - mt) + "px";
  div.style.width = W + "px";
  div.style.height = H + "px";
  div.appendChild(svg);
  fig.appendChild(div);
}

// legend of panel 1
const lg = document.createElement("div");
lg.className = "legend";
lg.style.left = "186px"; lg.style.top = "13px"; lg.style.width = "104px"; lg.style.height = "54px";
legendLabels.forEach((lab, i) => {
  const row = document.createElement("div");
  row.className = "row";
  row.style.top = (6 + i * 17.5) + "px";
  const sw = document.createElement("div");
  sw.className = "sw"; sw.style.background = legendColors[i];
  const tx = document.createElement("div");
  tx.className = "lb"; tx.textContent = lab;
  row.appendChild(sw); row.appendChild(tx);
  lg.appendChild(row);
});
fig.appendChild(lg);
</script></body></html>
